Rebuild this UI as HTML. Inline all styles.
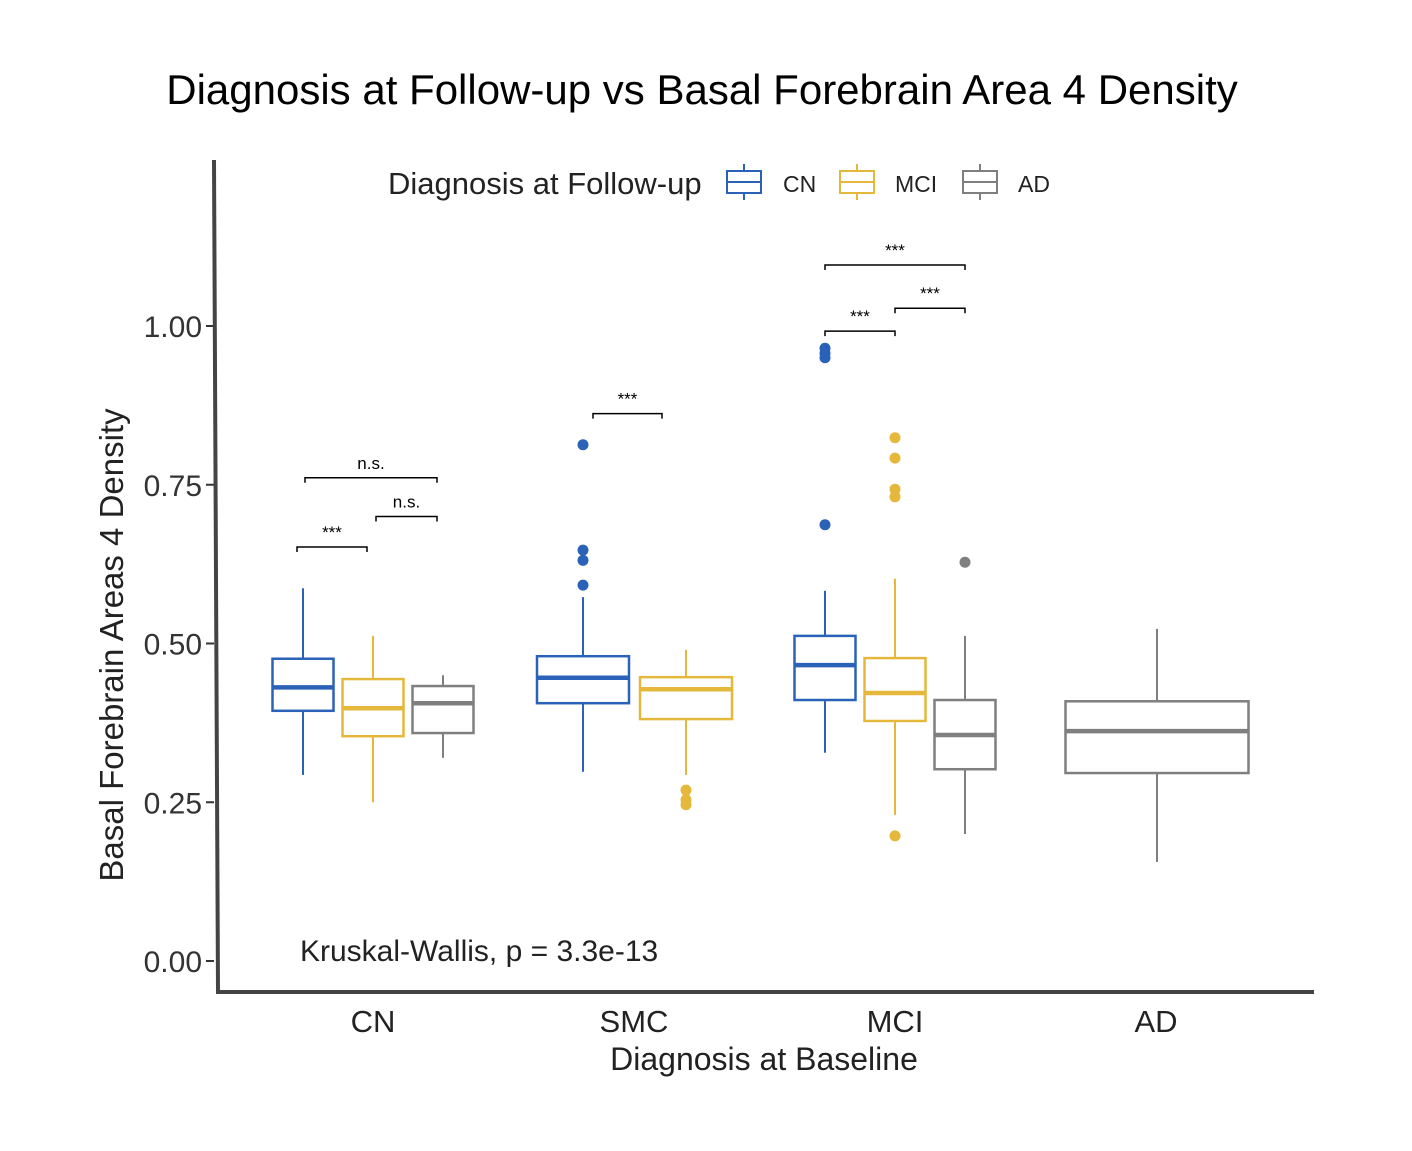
<!DOCTYPE html>
<html><head><meta charset="utf-8">
<style>
body{margin:0;background:#fff;}
svg text{font-family:"Liberation Sans",Arial,sans-serif;}
</style></head>
<body>
<svg id="chart" width="1412" height="1146" viewBox="0 0 1412 1146" xmlns="http://www.w3.org/2000/svg">
<rect width="1412" height="1146" fill="#fff"/>
<text x="702" y="104" font-size="42" text-anchor="middle" fill="#000">Diagnosis at Follow-up vs Basal Forebrain Area 4 Density</text>
<g>
<text x="388" y="194" font-size="31" fill="#222">Diagnosis at Follow-up</text>
</g>
<g id="plot"></g>
<line x1="214" y1="160" x2="218" y2="993" stroke="#444" stroke-width="4"/>
<line x1="216" y1="992" x2="1314" y2="992" stroke="#444" stroke-width="4"/>
<text x="764" y="1070" font-size="32" text-anchor="middle" fill="#222">Diagnosis at Baseline</text>
<text transform="translate(123,645) rotate(-90)" font-size="33" text-anchor="middle" fill="#222">Basal Forebrain Areas 4 Density</text>
<text x="300" y="961" font-size="30" fill="#222">Kruskal-Wallis, p = 3.3e-13</text>
</svg>
<script>
const categories=["CN","SMC","MCI","AD"];
const groups=["CN","MCI","AD"];
const groupColors={CN:"#2a62b8",MCI:"#e5b83b",AD:"#7f7f7f"};
const yTicks=[0,0.25,0.5,0.75,1.0];
const yTickLabels=["0.00","0.25","0.50","0.75","1.00"];
// [category, group, low, q1, median, q3, high]
const boxStats=[
["CN","CN",0.293,0.394,0.431,0.476,0.587],
["CN","MCI",0.250,0.354,0.398,0.444,0.512],
["CN","AD",0.320,0.359,0.406,0.433,0.450],
["SMC","CN",0.298,0.406,0.446,0.480,0.573],
["SMC","MCI",0.293,0.381,0.428,0.447,0.490],
["MCI","CN",0.328,0.411,0.466,0.512,0.583],
["MCI","MCI",0.230,0.378,0.422,0.477,0.602],
["MCI","AD",0.200,0.302,0.356,0.411,0.512],
["AD","AD",0.156,0.296,0.362,0.409,0.523]];
const outliers=[
["SMC","CN",[0.813,0.647,0.631,0.592]],
["SMC","MCI",[0.269,0.254,0.246]],
["MCI","CN",[0.965,0.957,0.950,0.687]],
["MCI","MCI",[0.824,0.792,0.743,0.731,0.197]],
["MCI","AD",[0.628]]];
// [category, groupA, groupB, yValue, label]
const brackets=[
["CN","CN","MCI",0.652,"***"],
["CN","MCI","AD",0.700,"n.s."],
["CN","CN","AD",0.761,"n.s."],
["SMC","CN","MCI",0.862,"***"],
["MCI","CN","MCI",0.992,"***"],
["MCI","MCI","AD",1.028,"***"],
["MCI","CN","AD",1.096,"***"]];

const NS="http://www.w3.org/2000/svg";
const svg=document.getElementById("plot");
function y(v){return 961-635*v;}
function xc(c){return 373+261*categories.indexOf(c);}
function groupsIn(c){return groups.filter(g=>boxStats.some(b=>b[0]===c&&b[1]===g));}
function bw(c){const n=groupsIn(c).length;return n===3?61:n===2?92:183;}
function gx(c,g){const gs=groupsIn(c);const n=gs.length;const i=gs.indexOf(g);
 if(n===3)return xc(c)+(i-1)*70; if(n===2)return xc(c)+(i===0?-51:52); return xc(c)+1;}
function bx(c,g){return xc(c)+(groups.indexOf(g)-1)*70-(categories.indexOf(c)===0?6:0)+(categories.indexOf(c)===1?-41:0);}
function el(t,a,p){const e=document.createElementNS(NS,t);for(const k in a)e.setAttribute(k,a[k]);(p||svg).appendChild(e);return e;}

yTicks.forEach((v,i)=>{
 const t=el("text",{x:202,y:y(v)+11,"font-size":30,"text-anchor":"end",fill:"#333"});
 
 
 t.textContent=yTickLabels[i];
 const l=el("line",{x1:206,x2:214,y1:y(v),y2:y(v),stroke:"#333","stroke-width":2});
 
 
});
categories.forEach(c=>{
 const t=el("text",{x:xc(c),y:1032,"font-size":31,"text-anchor":"middle",fill:"#222"});
 
 
 t.textContent=c;
});
boxStats.forEach(b=>{
 const [c,g,lo,q1,md,q3,hi]=b;const cx=gx(c,g),w=bw(c),col=groupColors[g];
 const gr=el("g",{});
 
 
 el("line",{x1:cx,x2:cx,y1:y(hi),y2:y(q3),stroke:col,"stroke-width":2},gr);
 el("line",{x1:cx,x2:cx,y1:y(q1),y2:y(lo),stroke:col,"stroke-width":2},gr);
 el("rect",{x:cx-w/2,y:y(q3),width:w,height:y(q1)-y(q3),fill:"#fff",stroke:col,"stroke-width":2.5},gr);
 el("line",{x1:cx-w/2,x2:cx+w/2,y1:y(md),y2:y(md),stroke:col,"stroke-width":4.5},gr);
});
outliers.forEach(o=>{
 const [c,g,vals]=o;
 vals.forEach(v=>{
  const p=el("circle",{cx:gx(c,g),cy:y(v),r:5.5,fill:groupColors[g]});
  
  
 });
});
brackets.forEach(b=>{
 const [c,a,bb,v,lab]=b;let x1=bx(c,a),x2=bx(c,bb);
 if(categories.indexOf(c)===1){x1=xc(c)-41;x2=xc(c)+28;}
 if(categories.indexOf(c)===0&&a==="CN"&&bb==="AD"){x1+=8;}
 if(categories.indexOf(c)===0&&a==="MCI"){x1+=9;}
 const yy=y(v);
 const p=el("path",{d:`M${x1} ${yy+5}V${yy}H${x2}V${yy+5}`,fill:"none",stroke:"#000","stroke-width":1.5});
 
 
 const t=el("text",{x:(x1+x2)/2,y:yy-9,"font-size":17,"text-anchor":"middle",fill:"#000"});
 
 
 t.textContent=lab;
});
const legX={CN:[727,783],MCI:[840,895],AD:[963,1018]};
groups.forEach(g=>{
 const [kx,tx]=legX[g];const col=groupColors[g];
 const gr=el("g",{});
 
 
 el("line",{x1:kx+17,x2:kx+17,y1:164,y2:200,stroke:col,"stroke-width":2},gr);
 el("rect",{x:kx,y:171,width:34,height:22,fill:"#fff",stroke:col,"stroke-width":2},gr);
 el("line",{x1:kx,x2:kx+34,y1:182,y2:182,stroke:col,"stroke-width":2},gr);
 const t=el("text",{x:tx,y:192,"font-size":23,fill:"#222"},gr);
 t.textContent=g;
});
</script>
</body></html>
